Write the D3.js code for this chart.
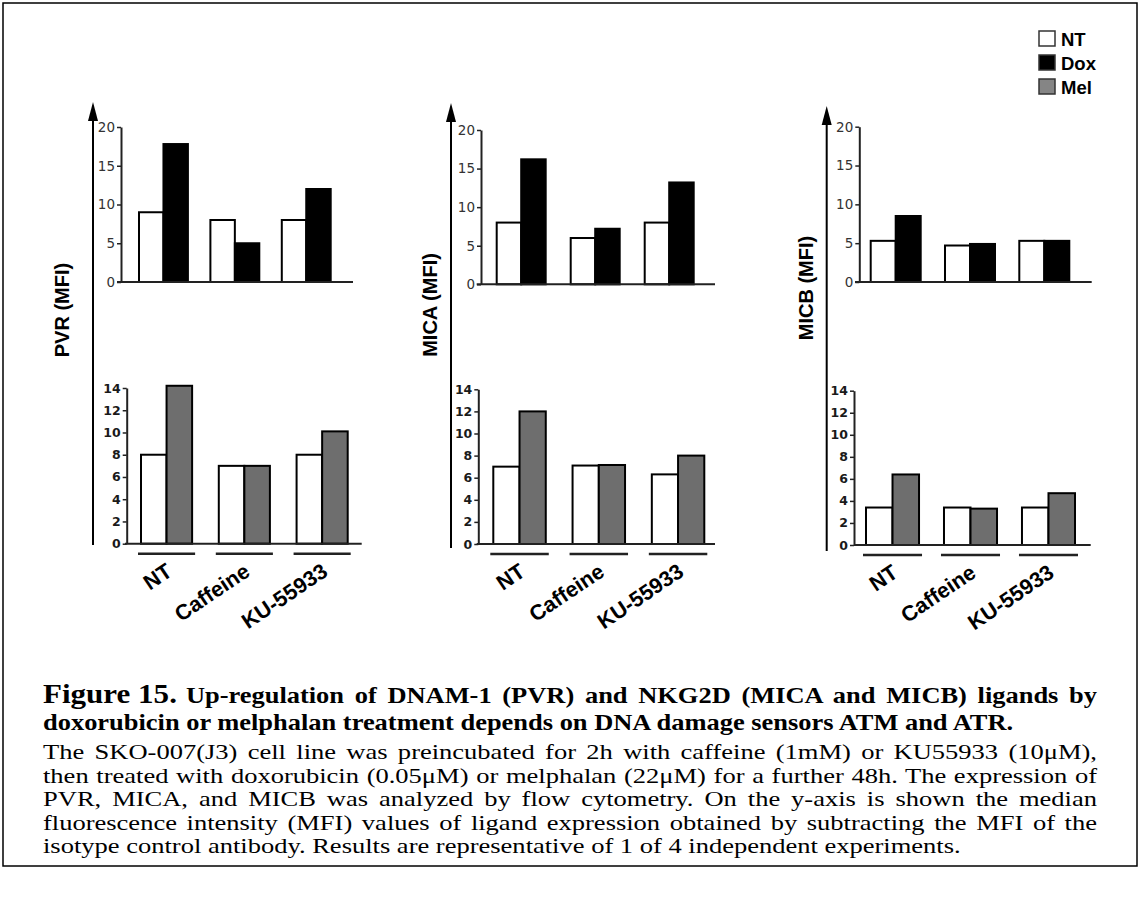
<!DOCTYPE html>
<html>
<head>
<meta charset="utf-8">
<script src="https://cdn.jsdelivr.net/npm/d3@7"></script>
<style>
  body { margin: 0; background: #fff; }
  svg { display: block; }
</style>
</head>
<body>
<div id="pane"></div>
<script>
// groups on the x axis
const categories = ["NT", "Caffeine", "KU-55933"];
const axisTitles = ["PVR (MFI)", "MICA (MFI)", "MICB (MFI)"];

// upper charts: untreated (NT) vs doxorubicin
const pvrDoxNT = [9, 8, 8];
const pvrDox = [17.8, 5, 12];
const micaDoxNT = [8, 6, 8];
const micaDox = [16.2, 7.2, 13.2];
const micbDoxNT = [5.3, 4.7, 5.3];
const micbDox = [8.5, 4.9, 5.3];

// lower charts: untreated (NT) vs melphalan
const pvrMelNT = [8, 7, 8];
const pvrMel = [14.2, 7, 10.1];
const micaMelNT = [7, 7.1, 6.3];
const micaMel = [12, 7.15, 8];
const micbMelNT = [3.4, 3.4, 3.4];
const micbMel = [6.4, 3.3, 4.7];

const topTicks = [0, 5, 10, 15, 20];
const bottomTicks = [0, 2, 4, 6, 8, 10, 12, 14];
const legendLabels = ["NT", "Dox", "Mel"];

const captionTitle = "Figure 15.";
const captionTitleRest = "Up-regulation of DNAM-1 (PVR) and NKG2D (MICA and MICB) ligands by";
const captionTitle2 = "doxorubicin or melphalan treatment depends on DNA damage sensors ATM and ATR.";
const captionBody = [
  "The SKO-007(J3) cell line was preincubated for 2h with caffeine (1mM) or KU55933 (10\u03bcM),",
  "then treated with doxorubicin (0.05\u03bcM) or melphalan (22\u03bcM) for a further 48h. The expression of",
  "PVR, MICA, and MICB was analyzed by flow cytometry. On the y-axis is shown the median",
  "fluorescence intensity (MFI) values of ligand expression obtained by subtracting the MFI of the",
  "isotype control antibody. Results are representative of 1 of 4 independent experiments."
];

const width = 1140, height = 912;
const colors = { NT: "#fff", Dox: "#000", Mel: "#6e6e6e" };

const svg = d3.select("#pane").append("svg")
  .attr("width", width)
  .attr("height", height);

// frame round the figure
svg.append("rect")
  .attr("x", 3).attr("y", 3)
  .attr("width", 1134).attr("height", 863)
  .attr("fill", "none").attr("stroke", "#000").attr("stroke-width", 1.5);

// where each panel sits (pixel layout only)
const panels = [
  {
    title: axisTitles[0], titleX: 62, titleY: 310, arrowX: 93, arrowTop: 102, arrowBottom: 545,
    top: { axisX: 121, g0: 139, g1: 330.7, pad: 0.315, base0: 117, base1: 353, y0: 282, y1: 127, nt: pvrDoxNT, trt: pvrDox },
    bottom: { axisX: 126.7, g0: 141, g1: 347.7, pad: 0.343, base0: 125, base1: 361.7, y0: 543.7, y1: 388, nt: pvrMelNT, trt: pvrMel }
  },
  {
    title: axisTitles[1], titleX: 430, titleY: 305, arrowX: 451, arrowTop: 103, arrowBottom: 548,
    top: { axisX: 481, g0: 496.7, g1: 693.7, pad: 0.338, base0: 476.7, base1: 715, y0: 284.3, y1: 130, nt: micaDoxNT, trt: micaDox },
    bottom: { axisX: 478.3, g0: 493.3, g1: 704.3, pad: 0.338, base0: 476.7, base1: 715, y0: 544, y1: 389.3, nt: micaMelNT, trt: micaMel }
  },
  {
    title: axisTitles[2], titleX: 806, titleY: 288, arrowX: 826.7, arrowTop: 106, arrowBottom: 551,
    top: { axisX: 859.3, g0: 870.7, g1: 1069.3, pad: 0.327, base0: 855, base1: 1091.7, y0: 282, y1: 126.7, nt: micbDoxNT, trt: micbDox },
    bottom: { axisX: 854, g0: 866, g1: 1075, pad: 0.32, base0: 854, base1: 1090.7, y0: 545, y1: 390.7, nt: micbMelNT, trt: micbMel }
  }
];

function drawChart(cfg, treatment, max, ticks, isBottom) {
  const g = svg.append("g");
  const y = d3.scaleLinear().domain([0, max]).range([cfg.y0, cfg.y1]);
  const x0 = d3.scaleBand().domain(categories).range([cfg.g0, cfg.g1])
    .paddingInner(cfg.pad).paddingOuter(0);
  const x1 = d3.scaleBand().domain(["NT", treatment]).range([0, x0.bandwidth()]);

  const rows = categories.map((c, i) => ({ cat: c, values: [
    { key: "NT", v: cfg.nt[i] }, { key: treatment, v: cfg.trt[i] }
  ] }));

  // y axis
  const axis = g.append("g")
    .attr("transform", `translate(${cfg.axisX},0)`)
    .call(d3.axisLeft(y).tickValues(ticks).tickSize(4).tickSizeOuter(0).tickPadding(2));
  axis.select(".domain").attr("stroke", "#222").attr("stroke-width", 2);
  axis.selectAll(".tick line").attr("stroke", "#222").attr("stroke-width", 1.5);
  axis.selectAll(".tick text")
    .attr("font-family", "DejaVu Sans, Verdana, sans-serif")
    .attr("font-size", isBottom ? 12.5 : 13.5)
    .attr("font-weight", isBottom ? "bold" : "normal")
    .attr("fill", isBottom ? "#1a1a1a" : "#333");

  // bars
  g.selectAll("g.grp")
    .data(rows)
    .join("g")
    .attr("class", "grp")
    .attr("transform", d => `translate(${x0(d.cat)},0)`)
    .selectAll("rect")
    .data(d => d.values)
    .join("rect")
    .attr("x", d => x1(d.key))
    .attr("y", d => y(d.v))
    .attr("width", x1.bandwidth())
    .attr("height", d => y(0) - y(d.v))
    .attr("fill", d => colors[d.key])
    .attr("stroke", "#000")
    .attr("stroke-width", 2);

  // baseline
  g.append("line")
    .attr("x1", cfg.base0).attr("x2", cfg.base1)
    .attr("y1", y(0)).attr("y2", y(0))
    .attr("stroke", "#222").attr("stroke-width", 2);

  if (isBottom) {
    // underline per group, then slanted group names
    g.selectAll("line.under")
      .data(categories)
      .join("line")
      .attr("class", "under")
      .attr("x1", d => x0(d) - 3)
      .attr("x2", d => x0(d) + x0.bandwidth() + 3)
      .attr("y1", y(0) + 10).attr("y2", y(0) + 10)
      .attr("stroke", "#222").attr("stroke-width", 2.5);

    g.selectAll("text.cat")
      .data(categories)
      .join("text")
      .attr("class", "cat")
      .attr("text-anchor", "end")
      .attr("font-family", "Liberation Sans, Arial, sans-serif")
      .attr("font-weight", "bold")
      .attr("font-size", 21.5)
      .attr("transform", d => `translate(${x0(d) + x0.bandwidth() / 2 + 7},${y(0) + 31}) rotate(-34)`)
      .text(d => d);
  }
}

panels.forEach(p => {
  // long arrow axis on the left of each panel
  svg.append("line")
    .attr("x1", p.arrowX).attr("x2", p.arrowX)
    .attr("y1", p.arrowTop + 10).attr("y2", p.arrowBottom)
    .attr("stroke", "#000").attr("stroke-width", 2);
  svg.append("path")
    .attr("d", `M${p.arrowX},${p.arrowTop} L${p.arrowX - 5},${p.arrowTop + 19} L${p.arrowX + 5},${p.arrowTop + 19} Z`)
    .attr("fill", "#000");

  svg.append("text")
    .attr("transform", `translate(${p.titleX},${p.titleY}) rotate(-90)`)
    .attr("text-anchor", "middle")
    .attr("dy", "0.36em")
    .attr("font-family", "Liberation Sans, Arial, sans-serif")
    .attr("font-weight", "bold")
    .attr("font-size", 20)
    .text(p.title);

  drawChart(p.top, "Dox", 20, topTicks, false);
  drawChart(p.bottom, "Mel", 14, bottomTicks, true);
});

// legend
const legendColors = ["#fff", "#000", "#858585"];
const legend = svg.append("g").attr("transform", "translate(1039,31)");
legend.selectAll("rect")
  .data(legendLabels)
  .join("rect")
  .attr("x", 0)
  .attr("y", (d, i) => i * 24)
  .attr("width", 16).attr("height", 15)
  .attr("fill", (d, i) => legendColors[i])
  .attr("stroke", "#333").attr("stroke-width", 1.5);
legend.selectAll("text")
  .data(legendLabels)
  .join("text")
  .attr("x", 22)
  .attr("y", (d, i) => i * 24 + 14.5)
  .attr("font-family", "Liberation Sans, Arial, sans-serif")
  .attr("font-weight", "bold")
  .attr("font-size", 18.5)
  .text(d => d);

// caption: serif, a little wide, justified lines
const capLeft = 43, capRight = 1097;
const serif = "Liberation Serif, Times New Roman, serif";

function capLine(x, yPos, txt, size, bold, sx, justifyTo) {
  const g = svg.append("g").attr("transform", `translate(${x},${yPos}) scale(${sx},1)`);
  const t = g.append("text")
    .attr("font-family", serif)
    .attr("font-size", size)
    .attr("font-weight", bold ? "bold" : "normal")
    .text(txt);
  if (justifyTo) {
    const target = (justifyTo - x) / sx;
    const spaces = (txt.match(/ /g) || []).length;
    const len = t.node().getComputedTextLength();
    if (spaces > 0) t.attr("word-spacing", (target - len) / spaces);
  }
  return t;
}

const titleSx = 1.15;
const fig = capLine(capLeft, 703, captionTitle, 27, true, titleSx, null);
const figEnd = capLeft + fig.node().getComputedTextLength() * titleSx + 9;
capLine(figEnd, 703, captionTitleRest, 23, true, titleSx, capRight);
capLine(capLeft, 730, captionTitle2, 23, true, titleSx, null);

// body width: stretch so the longest full line nearly fills the measure
const probe = svg.append("text").attr("font-family", serif).attr("font-size", 21);
const longest = d3.max(captionBody.slice(0, -1), line => {
  probe.text(line);
  return probe.node().getComputedTextLength();
});
probe.remove();
const bodySx = (capRight - capLeft - 14) / longest;

captionBody.forEach((line, i) => {
  capLine(capLeft, 759 + i * 23.5, line, 21, false, bodySx, i < captionBody.length - 1 ? capRight : null);
});
</script>
</body>
</html>
